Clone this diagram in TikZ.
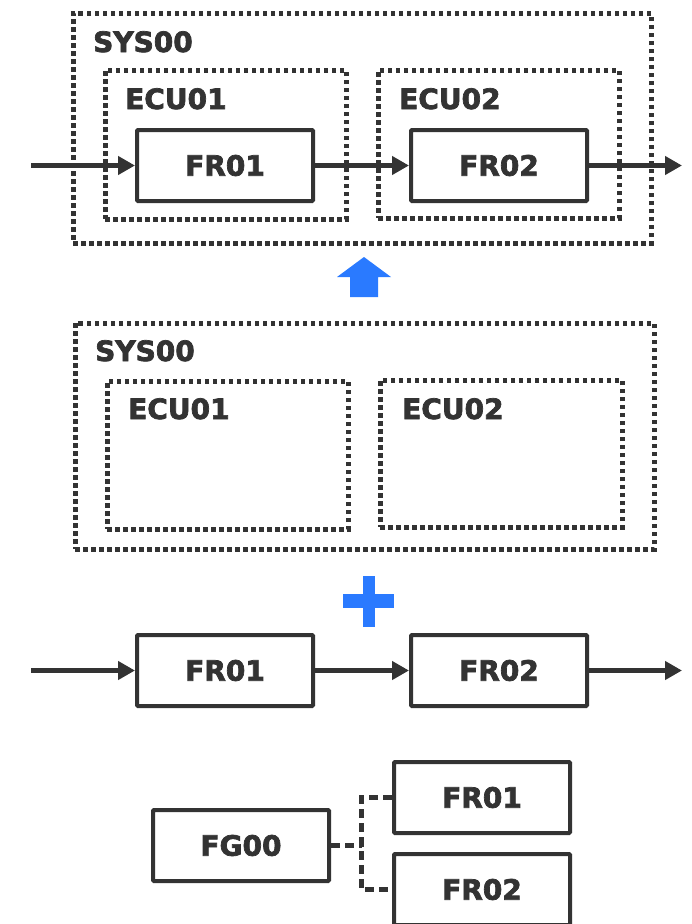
\documentclass[tikz,border=0pt]{standalone}
\usepackage{fontspec}
\setmainfont{DejaVu Sans}
\newfontfamily\heavyfont{DejaVu Sans Bold}[FakeBold=2.5]
\usetikzlibrary{arrows.meta}
\definecolor{ink}{HTML}{333333}
\definecolor{accent}{HTML}{2A7AFF}
\begin{document}
\begin{tikzpicture}[x=1pt,y=-1pt,
  labelfont/.style={font=\heavyfont\fontsize{28}{28}\selectfont, text=ink},
  frbox/.style={draw=ink, line width=4pt, rounded corners=1pt, inner sep=0pt,
    minimum width=176pt, minimum height=71pt, labelfont},
  dotbox/.style={draw=ink, line width=5pt, dash pattern=on 4.5pt off 3.5pt, inner sep=0pt},
  lbl/.style={anchor=base west, inner sep=0pt, labelfont},
  flow/.style={draw=ink, line width=5pt, -{Triangle[length=17pt,width=18pt]}},
  tie/.style={draw=ink, line width=5pt, dash pattern=on 9pt off 5pt}
]
\useasboundingbox[fill=white] (0,0) rectangle (692,924);

% ---- integrated view: system, ECUs and frames ----
\node[dotbox, minimum width=578pt, minimum height=230pt] (sysA) at (362,128) {};
\node[dotbox, minimum width=241pt, minimum height=149pt] (ecuA1) at (225.5,144.5) {};
\node[dotbox, minimum width=241pt, minimum height=148pt] (ecuA2) at (498.5,144) {};
\node[lbl] (sysAt) at (93,52) {SYS00};
\node[lbl] (ecuA1t) at (125,109) {ECU01};
\node[lbl] (ecuA2t) at (399,109) {ECU02};
\node[frbox] (frA1) at (225,165.5) {FR01};
\node[frbox] (frA2) at (499,165.5) {FR02};
\coordinate (inA) at (31,165.5);
\coordinate (outA) at (682,165.5);
\draw[flow] (inA) -- (frA1.west);
\draw[flow] (frA1.east) -- (frA2.west);
\draw[flow] (frA2.east) -- (outA);

% ---- upward block arrow ----
\fill[accent] (364,257) -- (391,277) -- (378,277) -- (378,297) -- (350,297)
  -- (350,277) -- (337,277) -- cycle;

% ---- system structure ----
\node[dotbox, minimum width=579pt, minimum height=226pt] (sysB) at (364.5,436) {};
\node[dotbox, minimum width=241pt, minimum height=148pt] (ecuB1) at (227.5,455) {};
\node[dotbox, minimum width=242pt, minimum height=147pt] (ecuB2) at (501,453.5) {};
\node[lbl] (sysBt) at (95,361) {SYS00};
\node[lbl] (ecuB1t) at (128,419) {ECU01};
\node[lbl] (ecuB2t) at (402,419) {ECU02};

% ---- plus sign ----
\fill[accent] (363,576) rectangle (375,627);
\fill[accent] (343,594) rectangle (394,608);

% ---- frame flow ----
\node[frbox] (frB1) at (225,670.5) {FR01};
\node[frbox] (frB2) at (499,670.5) {FR02};
\coordinate (inB) at (31,670.5);
\coordinate (outB) at (682,670.5);
\draw[flow] (inB) -- (frB1.west);
\draw[flow] (frB1.east) -- (frB2.west);
\draw[flow] (frB2.east) -- (outB);

% ---- function group tree ----
\node[frbox] (fg) at (241,845.5) {FG00};
\node[frbox] (frC1) at (482,797.5) {FR01};
\node[frbox] (frC2) at (482,889.5) {FR02};
\coordinate (jn) at (361.5,845.5);
\draw[tie] (fg.east) -- (jn);
\draw[tie] (frC1.west) -| (jn) |- (frC2.west);
\end{tikzpicture}
\end{document}
